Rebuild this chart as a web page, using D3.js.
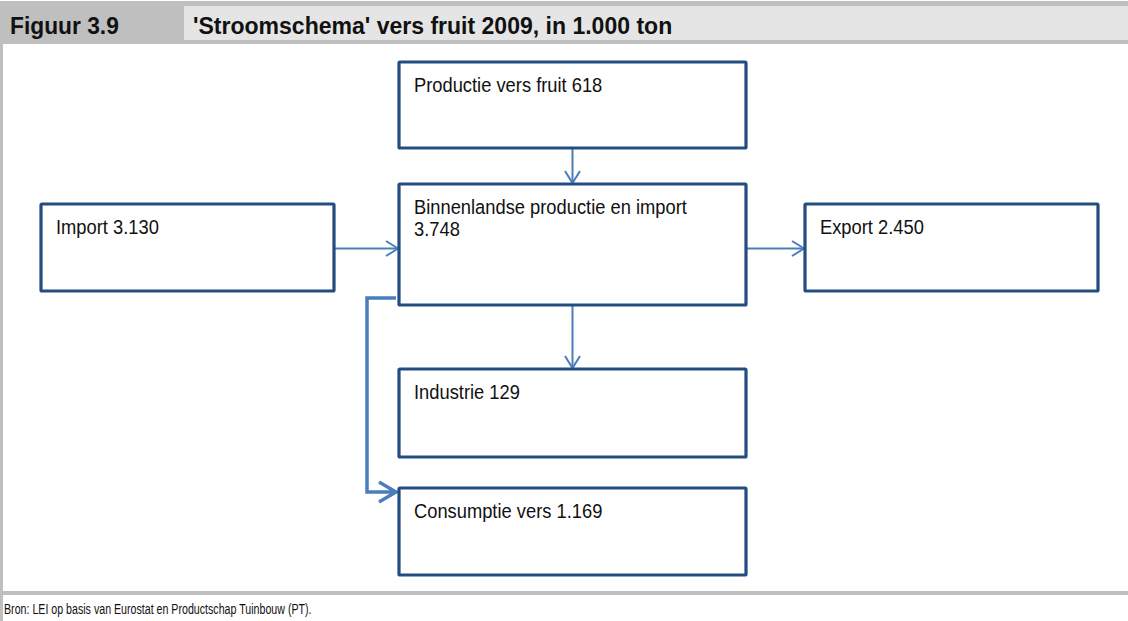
<!DOCTYPE html>
<html><head><meta charset="utf-8">
<script src="https://cdn.jsdelivr.net/npm/d3@7"></script>
<style>html,body{margin:0;padding:0;background:#fff;} svg{display:block;}</style>
</head><body><svg id="c" width="1128" height="621"></svg>
<script>
// ---- data ----
const figureNumber = "Figuur 3.9";
const figureTitle = "'Stroomschema' vers fruit 2009, in 1.000 ton";
const sourceNote = "Bron: LEI op basis van Eurostat en Productschap Tuinbouw (PT).";
const nodeIds = ["productie", "binnenlands", "import", "export", "industrie", "consumptie"];
const nodeLabels = ["Productie vers fruit", "Binnenlandse productie en import", "Import", "Export", "Industrie", "Consumptie vers"];
const nodeValues = [618, 3748, 3130, 2450, 129, 1169];
const linkSources = ["productie", "import", "binnenlands", "binnenlands", "binnenlands"];
const linkTargets = ["binnenlands", "binnenlands", "export", "industrie", "consumptie"];

// ---- layout (code, not data) ----
const W = 1128, H = 621;
const svg = d3.select("#c");
const nl = d3.formatLocale({decimal: ",", thousands: ".", grouping: [3], currency: ["€", ""]});
const fmt = nl.format(",d");

const colX = d3.scaleOrdinal().domain(["left", "center", "right"]).range([[41, 334], [399, 746], [805, 1098]]);
const nodeCol = d3.scaleOrdinal().domain(nodeIds).range(["center", "center", "left", "right", "center", "center"]);
const nodeRowY = d3.scaleOrdinal().domain(nodeIds).range([[62, 148], [184, 305], [204, 291], [204, 291], [369, 457], [488, 575]]);

const nodes = nodeIds.map((id, i) => {
  const [x0, x1] = colX(nodeCol(id));
  const [y0, y1] = nodeRowY(id);
  return {id, label: nodeLabels[i], value: nodeValues[i], x0, x1, y0, y1};
});
const byId = new Map(nodes.map(n => [n.id, n]));

const grey = "#bfbfbf", lightGrey = "#e5e5e5";
const boxColor = "#234c80", arrowColor = "#4a7ebb";

// frame
svg.append("rect").attr("x", 0).attr("y", 1).attr("width", W).attr("height", 43).attr("fill", grey);
svg.append("rect").attr("x", 184).attr("y", 6).attr("width", W - 184).attr("height", 34).attr("fill", lightGrey);
svg.append("rect").attr("x", 0).attr("y", 44).attr("width", 3).attr("height", H - 44).attr("fill", grey);
svg.append("rect").attr("x", 0).attr("y", 591).attr("width", W).attr("height", 4).attr("fill", grey);

svg.append("text").attr("transform", "translate(10,34) scale(0.93,1)").text(figureNumber)
  .attr("font-family", "Liberation Sans, Arial, sans-serif").attr("font-weight", "bold").attr("font-size", 24.5).attr("fill", "#111");
svg.append("text").attr("transform", "translate(193,34) scale(0.94,1)").text(figureTitle)
  .attr("font-family", "Liberation Sans, Arial, sans-serif").attr("font-weight", "bold").attr("font-size", 24.5).attr("fill", "#111");
svg.append("text").attr("transform", "translate(4,614) scale(0.72,1)").text(sourceNote)
  .attr("font-family", "Liberation Sans, Arial, sans-serif").attr("font-size", 14.8).attr("fill", "#111");

// links
function chevron(g, x, y, angle, len, half, width) {
  const a = angle, ca = Math.cos(a), sa = Math.sin(a);
  const p1 = [x - len * ca + half * sa, y - len * sa - half * ca];
  const p2 = [x - len * ca - half * sa, y - len * sa + half * ca];
  g.append("path").attr("d", d3.line()([p1, [x, y], p2]))
    .attr("fill", "none").attr("stroke", arrowColor).attr("stroke-width", width)
    .attr("stroke-linejoin", "miter").attr("stroke-linecap", "butt");
}
const gl = svg.append("g");
linkSources.forEach((s, i) => {
  const a = byId.get(s), b = byId.get(linkTargets[i]);
  let pts, w = 2, len = 12, half = 7.5;
  if (a.x0 === b.x0 && b.y0 > a.y1 && b.id !== "consumptie") {
    const x = (a.x0 + a.x1) / 2;
    pts = [[x, a.y1 + 1], [x, b.y0 - 1]];
  } else if (b.x0 > a.x1) {
    const y = (a.id === "import" ? (a.y0 + a.y1) / 2 : (b.y0 + b.y1) / 2) + 1;
    pts = [[a.x1 + 1, y], [b.x0 - 1, y]];
  } else {
    // elbow connector along the left side
    const xl = a.x0 - 32;
    pts = [[a.x0 - 3, a.y1 - 7], [xl, a.y1 - 7], [xl, b.y0 + 4], [b.x0 - 3, b.y0 + 4]];
    w = 3.5; len = 17; half = 10;
  }
  gl.append("path").attr("d", d3.line()(pts)).attr("fill", "none")
    .attr("stroke", arrowColor).attr("stroke-width", w).attr("stroke-linejoin", "miter");
  const p = pts[pts.length - 1], q = pts[pts.length - 2];
  chevron(gl, p[0], p[1], Math.atan2(p[1] - q[1], p[0] - q[0]), len, half, w);
});

// boxes
const gn = svg.append("g").selectAll("g").data(nodes).join("g");
gn.append("rect")
  .attr("x", d => d.x0).attr("y", d => d.y0)
  .attr("width", d => d.x1 - d.x0).attr("height", d => d.y1 - d.y0)
  .attr("rx", 1).attr("fill", "#fff").attr("stroke", boxColor).attr("stroke-width", 3.2);

const sx = 0.94;
gn.each(function(d) {
  const g = d3.select(this);
  const t = g.append("text").attr("font-family", "Liberation Sans, Arial, sans-serif")
    .attr("transform", `translate(${d.x0 + 15},${d.y0 + 30}) scale(${sx},1)`)
    .attr("font-size", 19.5).attr("fill", "#111");
  const words = (d.label + " " + fmt(d.value)).split(" ");
  const maxW = (d.x1 - d.x0 - 30) / sx;
  let line = [], lineNo = 0;
  let ts = t.append("tspan").attr("x", 0).attr("y", 0);
  words.forEach(w => {
    line.push(w);
    ts.text(line.join(" "));
    if (ts.node().getComputedTextLength() > maxW && line.length > 1) {
      line.pop();
      ts.text(line.join(" "));
      line = [w];
      lineNo++;
      ts = t.append("tspan").attr("x", 0).attr("y", lineNo * 22).text(w);
    }
  });
});
</script>
</body></html>
